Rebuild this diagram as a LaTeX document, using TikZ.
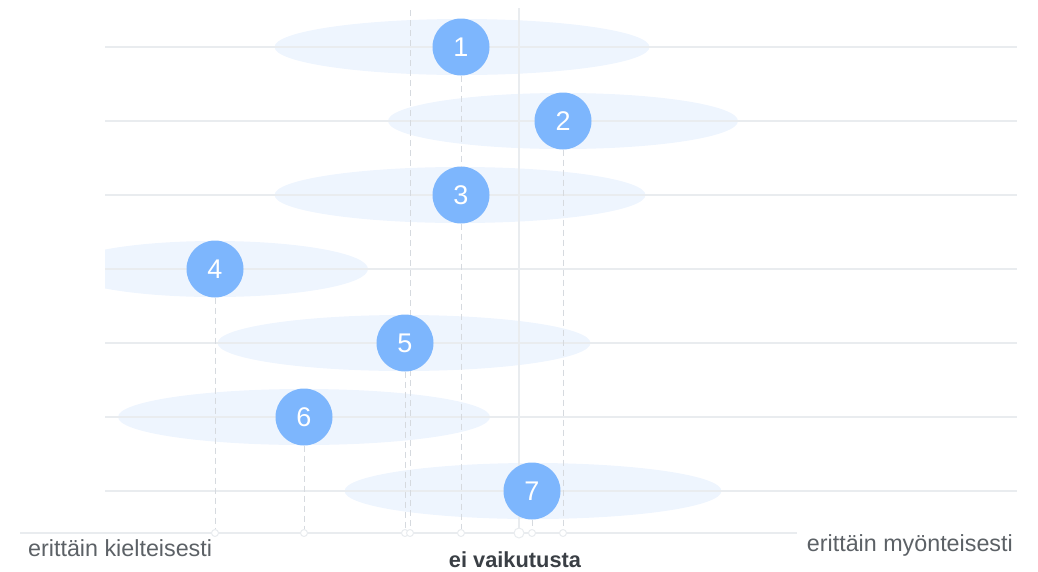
\documentclass[tikz,border=0pt]{standalone}
\usepackage{fontspec}
\setmainfont{Liberation Sans}
\usepackage{tikz}
\usetikzlibrary{shapes.geometric}
\definecolor{scoreBlue}{HTML}{7DB6FD}
\definecolor{spreadBlue}{HTML}{EEF5FE}
\definecolor{gridGray}{HTML}{E9ECEF}
\definecolor{dashGray}{HTML}{D6DADF}
\definecolor{labelGray}{HTML}{5C6166}
\definecolor{darkGray}{HTML}{3A3F45}
\tikzset{
  scoreNode/.style={%
    circle, minimum size=57pt, inner sep=0pt, fill=scoreBlue,
    text=white, font=\fontsize{27}{30}\selectfont,
  },
  spreadNode/.style={%
    ellipse, minimum height=56pt, inner sep=0pt, fill=spreadBlue,
  },
  tickNode/.style={%
    circle, minimum size=7pt, inner sep=0pt, fill=white, draw=gridGray, line width=1pt,
  },
  gridLine/.style={draw=gridGray, line width=1.1pt},
  meanLine/.style={draw=dashGray, line width=1pt, dash pattern=on 6pt off 4pt},
  endLabel/.style={text=labelGray, font=\fontsize{23.3}{27}\selectfont, inner sep=0pt},
}

\begin{document}
\begin{tikzpicture}[x=1pt,y=-1pt]

          \useasboundingbox (0,0) rectangle (1038,571);

          \begin{scope}
            \clip (105,0) rectangle (1017,571);
            \node[spreadNode,minimum width=375pt] (spread1) at (462,47) {} ;
            \node[spreadNode,minimum width=350pt] (spread2) at (563,121) {} ;
            \node[spreadNode,minimum width=371pt] (spread3) at (460,195) {} ;
            \node[spreadNode,minimum width=306pt] (spread4) at (215,269) {} ;
            \node[spreadNode,minimum width=373pt] (spread5) at (404,343) {} ;
            \node[spreadNode,minimum width=372pt] (spread6) at (304,417) {} ;
            \node[spreadNode,minimum width=377pt] (spread7) at (533,491) {} ;
          \end{scope}

          \draw[gridLine]
            (105,47) -- (1017,47)
            (105,121) -- (1017,121)
            (105,195) -- (1017,195)
            (105,269) -- (1017,269)
            (105,343) -- (1017,343)
            (105,417) -- (1017,417)
            (105,491) -- (1017,491)
            ;

          \coordinate (axisLeft) at (20,533) ;
          \coordinate (axisRight) at (797,533) ;
          \coordinate (zeroTop) at (519,8) ;
          \coordinate (meanTop) at (410,10) ;

          \draw[gridLine,line width=1.5pt] (axisLeft) -- (axisRight) ;
          \draw[gridLine] (zeroTop) -- (519,533) ;

          \node[tickNode] (tick4) at (215,533) {} ;
          \node[tickNode] (tick6) at (304,533) {} ;
          \node[tickNode] (tick5) at (405,533) {} ;
          \node[tickNode] (tickMean) at (410,533) {} ;
          \node[tickNode] (tick1) at (461,533) {} ;
          \node[tickNode,minimum size=10pt] (tickZero) at (519,533) {} ;
          \node[tickNode] (tick7) at (532,533) {} ;
          \node[tickNode] (tick2) at (563,533) {} ;

          \draw[meanLine] (meanTop) -- (tickMean) ;

          \node[scoreNode] (score1) at (461,47) {1} ;
          \node[scoreNode] (score2) at (563,121) {2} ;
          \node[scoreNode] (score3) at (461,195) {3} ;
          \node[scoreNode] (score4) at (215,269) {4} ;
          \node[scoreNode] (score5) at (405,343) {5} ;
          \node[scoreNode] (score6) at (304,417) {6} ;
          \node[scoreNode] (score7) at (532,491) {7} ;

          \draw[meanLine]
            (score1) -- (score3)
            (score3) -- (tick1)
            (score2) -- (tick2)
            (score4) -- (tick4)
            (score5) -- (tick5)
            (score6) -- (tick6)
            (score7) -- (tick7)
            ;

          \node[endLabel,anchor=west] (labelNeg) at (28,548) {erittäin kielteisesti} ;
          \node[endLabel,text=darkGray,font=\fontsize{21.8}{25}\selectfont\bfseries] (labelZero) at (515,560) {ei vaikutusta} ;
          \node[endLabel,anchor=east] (labelPos) at (1013,545) {erittäin myönteisesti} ;

        \end{tikzpicture}
\end{document}
